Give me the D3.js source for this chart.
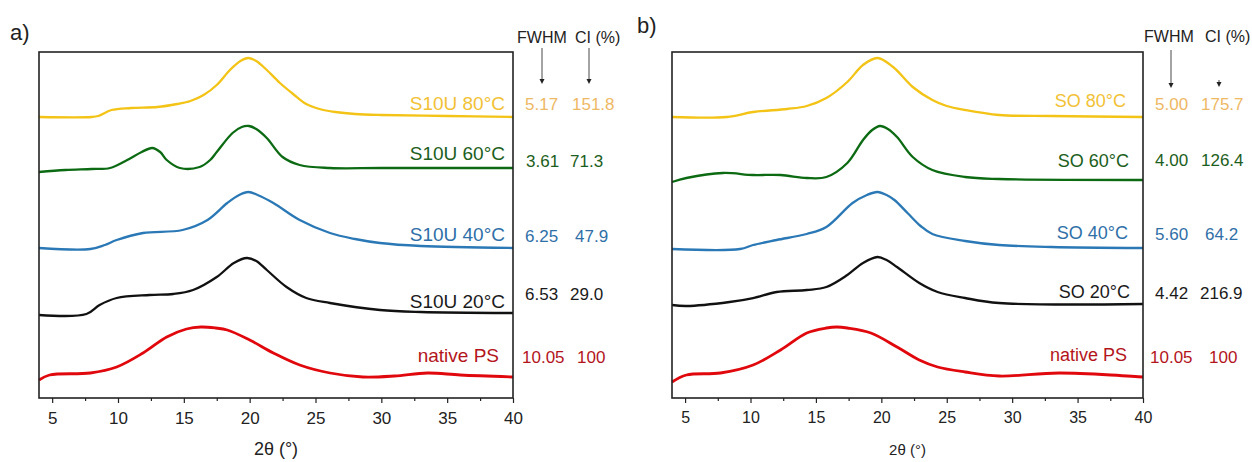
<!DOCTYPE html>
<html>
<head>
<meta charset="utf-8">
<script src="https://cdn.jsdelivr.net/npm/d3@7"></script>
<style>
  html, body { margin: 0; padding: 0; background: #fff; }
  svg { display: block; font-family: "Liberation Sans", Arial, sans-serif; }
</style>
</head>
<body>
<svg id="vis-container"></svg>
<script>
const WIDTH = 1252
const HEIGHT = 462
const CONTAINER = d3.select("#vis-container")

// 2theta tick labels
const MAJOR_TICKS = [5, 10, 15, 20, 25, 30, 35, 40]
const MINOR_TICKS = [7.5, 12.5, 17.5, 22.5, 27.5, 32.5, 37.5]

// ---- panel a) S10U samples (intensity, a.u., stacked) ----
const A_80_THETA = [4, 8, 8.5, 9.5, 11, 13, 14.5, 15.5, 16.5, 17.5, 18.5, 19.3, 19.9, 20.5, 21.3, 22.3, 23.3, 24.3, 25.3, 26.5, 28, 30, 35, 40]
const A_80_INT = [281, 281, 282, 288, 290, 291, 294, 297, 303, 313, 328, 337, 340, 337, 328, 315, 304, 294, 289, 286, 284, 283, 282, 281]
const A_60_THETA = [4, 6, 8, 9.4, 10.7, 11.8, 12.6, 13.2, 13.7, 14.7, 16.2, 17.0, 17.5, 18.7, 19.4, 19.95, 20.5, 21.3, 22.5, 23.8, 26.1, 30, 40]
const A_60_INT = [226, 228, 229, 230, 238, 246, 250, 246, 238, 230, 231, 238, 246, 265, 271, 272, 269, 260, 241, 233, 230, 230, 230]
const A_40_THETA = [4, 7.9, 9.0, 9.9, 11.9, 14.9, 16.8, 18.3, 19.2, 19.9, 20.6, 21.8, 23.8, 26.1, 28, 29.9, 33, 40]
const A_40_INT = [150, 149, 153, 158, 165, 168, 178, 195, 203, 206, 203, 195, 178, 165, 159, 155, 152, 150]
const A_20_THETA = [4, 7.6, 8.6, 9.9, 12.4, 14.2, 15.7, 17.5, 18.8, 19.8, 20.5, 21.3, 22.8, 24.3, 26.1, 29.9, 33, 40]
const A_20_INT = [83, 84, 93, 100, 103, 104, 108, 121, 135, 140, 137, 128, 111, 100, 95, 88, 86, 85]
const A_PS_THETA = [4, 4.8, 7.9, 9.9, 11.9, 13.7, 15.2, 16.3, 17.4, 18.3, 20.0, 21.8, 23.8, 26.1, 28.6, 31, 33.5, 36, 40]
const A_PS_INT = [18, 23, 25, 31, 45, 61, 69, 71, 70, 68, 58, 45, 33, 25, 21, 22, 25, 23, 21]

const A_LABELS = ["S10U 80°C", "S10U 60°C", "S10U 40°C", "S10U 20°C", "native PS"]
const A_FWHM = ["5.17", "3.61", "6.25", "6.53", "10.05"]
const A_CI = ["151.8", "71.3", "47.9", "29.0", "100"]

// ---- panel b) SO samples ----
const B_80_THETA = [4, 8.2, 10.2, 12.8, 14.3, 15.8, 17.4, 18.6, 19.7, 20.9, 22.4, 23.9, 25, 26.4, 29, 33, 40]
const B_80_INT = [281, 281, 286, 289, 292, 300, 316, 333, 340, 331, 311, 298, 292, 288, 283, 282, 281]
const B_60_THETA = [4, 5.1, 7.9, 10.2, 12.3, 14.3, 15.8, 17.4, 18.6, 19.3, 19.9, 20.5, 21.2, 22.4, 23.9, 26.4, 29, 40]
const B_60_INT = [216, 220, 225, 223, 223, 220, 221, 235, 258, 268, 272, 269, 261, 241, 228, 221, 219, 218]
const B_40_THETA = [4, 9.2, 10.2, 12.0, 14.3, 15.8, 17.8, 18.9, 19.7, 20.4, 21.0, 22.0, 23.0, 23.9, 26.4, 29, 33, 40]
const B_40_INT = [149, 149, 153, 158, 164, 171, 195, 203, 206, 203, 198, 185, 172, 164, 157, 153, 151, 150]
const B_20_THETA = [4, 5.1, 8.4, 10.2, 12.0, 14.3, 15.8, 17.4, 18.6, 19.7, 20.4, 21.2, 22.9, 24.3, 26.4, 29, 40]
const B_20_INT = [93, 92, 96, 100, 106, 108, 111, 123, 135, 141, 138, 131, 115, 106, 100, 95, 94]
const B_PS_THETA = [4, 5.1, 7.7, 10.2, 12.3, 14.3, 15.8, 16.6, 17.4, 19.2, 21.2, 22.9, 24.3, 26.4, 29, 33.6, 40]
const B_PS_INT = [16, 23, 25, 33, 48, 65, 70, 71, 70, 65, 51, 38, 31, 26, 22, 25, 21]

const B_LABELS = ["SO 80°C", "SO 60°C", "SO 40°C", "SO 20°C", "native PS"]
const B_FWHM = ["5.00", "4.00", "5.60", "4.42", "10.05"]
const B_CI = ["175.7", "126.4", "64.2", "216.9", "100"]

// colours per series (80, 60, 40, 20, native)
const LINE_COLORS = ["#f3c315", "#0b6a12", "#2a78b5", "#111111", "#e0080c"]
const LABEL_COLORS = ["#f2c135", "#1b5e20", "#2f6fa8", "#1a1a1a", "#b3151b"]
const VALUE_COLORS = ["#eeb864", "#1b5e20", "#2f6fa8", "#1a1a1a", "#b3151b"]

const Y_TOP = 52
const Y_BOTTOM = 398

initVisualization()

function initVisualization() {
    CONTAINER
        .attr('width', WIDTH)
        .attr('height', HEIGHT)

    CONTAINER.append('rect')
        .attr('width', WIDTH).attr('height', HEIGHT).attr('fill', '#fff')

    drawPanel({
        id: 'a', letter: 'a)', letterX: 10, letterY: 40,
        x0: 39, x1: 513,
        series: [
            [A_80_THETA, A_80_INT], [A_60_THETA, A_60_INT], [A_40_THETA, A_40_INT],
            [A_20_THETA, A_20_INT], [A_PS_THETA, A_PS_INT]
        ],
        labels: A_LABELS, fwhm: A_FWHM, ci: A_CI,
        labelX: [505, 505, 505, 505, 499],
        labelY: [110, 160, 241, 308, 362],
        labelSize: 19,
        valueY: [110, 167, 242, 300, 363],
        fwhmX: [525, 526, 525, 525, 522],
        ciX: [572, 570, 575, 570, 577],
        headerY: 43, fwhmHeadX: 517, ciHeadX: 575,
        arrows: [[542, 48, 84], [589, 48, 84]],
        tickSize: 17, titleSize: 18, titleY: 455
    })

    drawPanel({
        id: 'b', letter: 'b)', letterX: 637, letterY: 33,
        x0: 672, x1: 1143,
        series: [
            [B_80_THETA, B_80_INT], [B_60_THETA, B_60_INT], [B_40_THETA, B_40_INT],
            [B_20_THETA, B_20_INT], [B_PS_THETA, B_PS_INT]
        ],
        labels: B_LABELS, fwhm: B_FWHM, ci: B_CI,
        labelX: [1126, 1129, 1128, 1130, 1127],
        labelY: [107, 167, 239, 298, 361],
        labelSize: 18,
        valueY: [110, 166, 240, 299, 363],
        fwhmX: [1155, 1155, 1155, 1155, 1150],
        ciX: [1201, 1201, 1205, 1200, 1209],
        headerY: 42, fwhmHeadX: 1144, ciHeadX: 1205,
        arrows: [[1171, 50, 88], [1219, 80, 87]],
        tickSize: 16, titleSize: 15, titleY: 455
    })
}

function drawPanel(p) {
    const g = CONTAINER.append('g').attr('id', 'panel-' + p.id)

    const x = d3.scaleLinear().domain([4, 40]).range([p.x0, p.x1])
    const y = d3.scaleLinear().domain([0, Y_BOTTOM - Y_TOP]).range([Y_BOTTOM, Y_TOP])

    // curves
    const line = d3.line()
        .x(d => x(d[0]))
        .y(d => y(d[1]))
        .curve(d3.curveCatmullRom.alpha(0.5))

    p.series.forEach(([theta, inten], i) => {
        g.append('path')
            .datum(theta.map((t, k) => [t, inten[k]]))
            .attr('d', line)
            .attr('fill', 'none')
            .attr('stroke', LINE_COLORS[i])
            .attr('stroke-width', i === 4 ? 2.8 : 2.3)
            .attr('stroke-linejoin', 'round')
    })

    // bottom axis, major + minor ticks
    const axisG = g.append('g').attr('transform', `translate(0,${Y_BOTTOM})`)
    const major = axisG.append('g').call(
        d3.axisBottom(x).tickValues(MAJOR_TICKS).tickSize(5).tickFormat(d3.format('d'))
    )
    major.select('.domain').remove()
    major.selectAll('.tick line').attr('stroke', '#222').attr('stroke-width', 1.2)
    major.selectAll('.tick text')
        .attr('y', 14)
        .attr('fill', '#222')
        .style('font-size', p.tickSize + 'px')
        .style('font-family', '"Liberation Sans", Arial, sans-serif')

    const minor = axisG.append('g').call(
        d3.axisBottom(x).tickValues(MINOR_TICKS).tickSize(3).tickFormat('')
    )
    minor.select('.domain').remove()
    minor.selectAll('.tick line').attr('stroke', '#222').attr('stroke-width', 1.2)

    // frame
    g.append('rect')
        .attr('x', p.x0).attr('y', Y_TOP)
        .attr('width', p.x1 - p.x0).attr('height', Y_BOTTOM - Y_TOP)
        .attr('fill', 'none')
        .attr('stroke', '#222')
        .attr('stroke-width', 1.6)

    // axis title
    g.append('text')
        .attr('x', (p.x0 + p.x1) / 2)
        .attr('y', p.titleY)
        .attr('text-anchor', 'middle')
        .attr('fill', '#222')
        .style('font-size', p.titleSize + 'px')
        .text('2θ (°)')

    // panel letter
    g.append('text')
        .attr('x', p.letterX).attr('y', p.letterY)
        .attr('fill', '#222')
        .style('font-size', '22px')
        .text(p.letter)

    // sample labels and values
    p.labels.forEach((lab, i) => {
        g.append('text')
            .attr('x', p.labelX[i]).attr('y', p.labelY[i])
            .attr('text-anchor', 'end')
            .attr('fill', LABEL_COLORS[i])
            .style('font-size', p.labelSize + 'px')
            .text(lab)
        g.append('text')
            .attr('x', p.fwhmX[i]).attr('y', p.valueY[i])
            .attr('fill', VALUE_COLORS[i])
            .style('font-size', '17px')
            .text(p.fwhm[i])
        g.append('text')
            .attr('x', p.ciX[i]).attr('y', p.valueY[i])
            .attr('fill', VALUE_COLORS[i])
            .style('font-size', '17px')
            .text(p.ci[i])
    })

    // column headers
    g.append('text')
        .attr('x', p.fwhmHeadX).attr('y', p.headerY)
        .attr('fill', '#222').style('font-size', '16px')
        .text('FWHM')
    g.append('text')
        .attr('x', p.ciHeadX).attr('y', p.headerY)
        .attr('fill', '#222').style('font-size', '16px')
        .text('CI (%)')

    // arrows from headers
    p.arrows.forEach(([ax, ay0, ay1]) => {
        g.append('line')
            .attr('x1', ax).attr('x2', ax)
            .attr('y1', ay0).attr('y2', ay1 - 4)
            .attr('stroke', '#333').attr('stroke-width', 0.9)
        g.append('path')
            .attr('d', `M${ax - 2.5},${ay1 - 5} L${ax + 2.5},${ay1 - 5} L${ax},${ay1} Z`)
            .attr('fill', '#222')
    })
}
</script>
</body>
</html>
